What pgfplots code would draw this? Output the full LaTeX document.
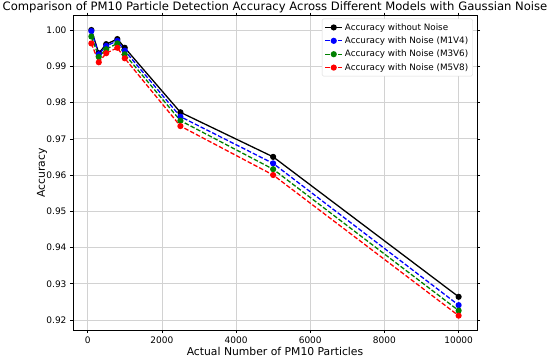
\documentclass[border=0pt]{standalone}
\usepackage{pgfplots}
\pgfplotsset{compat=1.18}
\usepackage{fontspec}
\setmainfont{DejaVu Sans}
\begin{document}
\begin{tikzpicture}
\path[use as bounding box] (-73pt,-30pt) rectangle (477pt,330pt);
\begin{axis}[
  at={(0,0)}, anchor=south west,
  scale only axis, width=404pt, height=314.5pt,
  xmin=-395, xmax=10495, ymin=0.91724, ymax=1.004,
  xtick={0,2000,4000,6000,8000,10000},
  ytick={0.92,0.93,0.94,0.95,0.96,0.97,0.98,0.99,1.00},
  /pgf/number format/assume math mode=true,
  xticklabel style={/pgf/number format/.cd,1000 sep={},fixed},
  yticklabel style={/pgf/number format/.cd,fixed,fixed zerofill,precision=2},
  scaled x ticks=false, scaled y ticks=false,
  tick label style={font=\fontsize{9}{10}\selectfont},
  label style={font=\fontsize{10.8}{12}\selectfont},
  every axis title shift=0pt,
  title style={font=\fontsize{11.6}{13}\selectfont, at={(0.5,1)}, anchor=base, yshift=5.5pt},
  title={Comparison of PM10 Particle Detection Accuracy Across Different Models with Gaussian Noise},
  xlabel={Actual Number of PM10 Particles},
  xlabel style={at={(0.5,0)}, anchor=base, yshift=-25pt},
  ylabel={Accuracy},
  ylabel style={at={(axis description cs:-0.0693,0.5)}, anchor=base},
  grid=major, major grid style={gray!35, line width=0.6pt},
  tick align=outside, tick style={black, line width=0.5pt},
  major tick length=3pt,
  axis line style={line width=0.6pt},
  legend style={font=\fontsize{8.8}{10}\selectfont, draw=gray!30, rounded corners=1.5pt, at={(0.99,0.99)}, anchor=north east, row sep=1.2pt, inner sep=2.5pt},
  legend cell align=left,
  every axis plot/.append style={line width=1.3pt, mark=*, mark size=2.4pt},
]
\addplot[black, solid, mark options={solid}] coordinates {
(100,1.0000) (300,0.9936) (500,0.9961) (800,0.9975) (1000,0.9951) (2500,0.9773) (5000,0.9650) (10000,0.9264)};
\addlegendentry{Accuracy without Noise}
\addplot[blue, dash pattern=on 4.5pt off 2pt, mark options={solid}] coordinates {
(100,0.9997) (300,0.9933) (500,0.9956) (800,0.9970) (1000,0.9943) (2500,0.9761) (5000,0.9632) (10000,0.9241)};
\addlegendentry{Accuracy with Noise (M1V4)}
\addplot[green!50!black, dash pattern=on 4.5pt off 2pt, mark options={solid}] coordinates {
(100,0.9982) (300,0.9926) (500,0.9947) (800,0.9963) (1000,0.9933) (2500,0.9750) (5000,0.9616) (10000,0.9226)};
\addlegendentry{Accuracy with Noise (M3V6)}
\addplot[red, dash pattern=on 4.5pt off 2pt, mark options={solid}] coordinates {
(100,0.9963) (300,0.9911) (500,0.9936) (800,0.9951) (1000,0.9922) (2500,0.9735) (5000,0.9600) (10000,0.9212)};
\addlegendentry{Accuracy with Noise (M5V8)}
\end{axis}
\end{tikzpicture}
\end{document}
